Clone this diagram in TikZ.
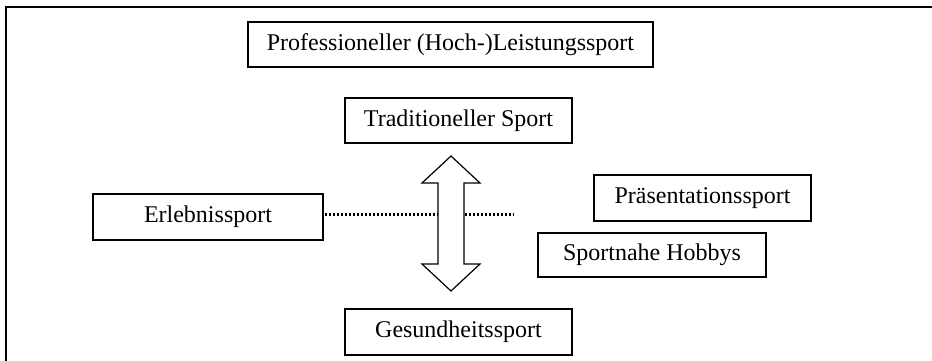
\documentclass[tikz,border=0pt]{standalone}
\usepackage{fontspec}
\setmainfont{Liberation Serif}
\begin{document}
\begin{tikzpicture}[x=1pt,y=-1pt,
  sbox/.style={draw=black,line width=1.2pt,fill=white,inner sep=0pt,
    font=\fontsize{24}{28}\selectfont},
  frame/.style={draw=black,line width=2.4pt},
  dotline/.style={draw=black,line width=3pt,dash pattern=on 2.6pt off 1.4pt},
  bigarrow/.style={draw=black,line width=1.2pt,fill=white,line join=miter}]
\useasboundingbox (0,0) rectangle (932,361);
\begin{scope}
\clip (0,0) rectangle (932,361);
\draw[frame] (6,7) rectangle (950,380);
\end{scope}
\node[sbox,minimum width=405pt,minimum height=45pt] (prof) at (450.5,44.5) {Professioneller (Hoch-)Leistungssport};
\node[sbox,minimum width=227pt,minimum height=45pt] (trad) at (458.5,120.5) {Traditioneller Sport};
\node[sbox,minimum width=230pt,minimum height=46pt] (erl) at (208,217) {Erlebnissport};
\node[sbox,minimum width=217pt,minimum height=46pt] (praes) at (702.5,198) {Präsentationssport};
\node[sbox,minimum width=228pt,minimum height=44pt] (hobby) at (652,255) {Sportnahe Hobbys};
\node[sbox,minimum width=227pt,minimum height=46pt] (ges) at (458.5,332) {Gesundheitssport};
\coordinate (dotend) at (514,214);
\draw[dotline] ([xshift=1pt]erl.east |- dotend) -- (dotend);
\coordinate (ac) at (451,223.5);
\draw[bigarrow] ([yshift=-67.5pt]ac) -- ([xshift=29pt,yshift=-40.5pt]ac)
  -- ([xshift=13pt,yshift=-40.5pt]ac) -- ([xshift=13pt,yshift=40.5pt]ac)
  -- ([xshift=29pt,yshift=40.5pt]ac) -- ([yshift=67.5pt]ac)
  -- ([xshift=-29pt,yshift=40.5pt]ac) -- ([xshift=-13pt,yshift=40.5pt]ac)
  -- ([xshift=-13pt,yshift=-40.5pt]ac) -- ([xshift=-29pt,yshift=-40.5pt]ac) -- cycle;
\end{tikzpicture}
\end{document}
